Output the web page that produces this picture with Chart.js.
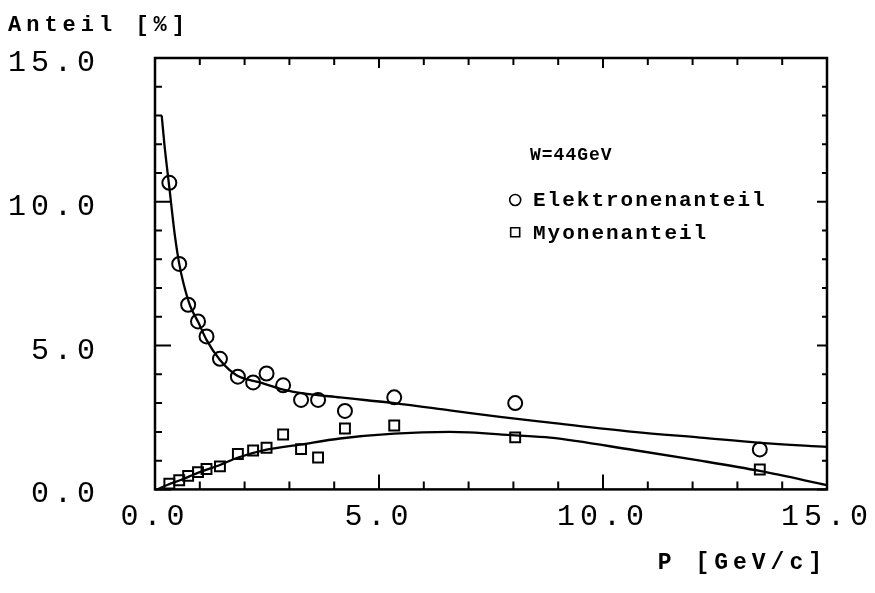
<!DOCTYPE html>
<html><head><meta charset="utf-8">
<script src="https://cdn.jsdelivr.net/npm/chart.js@4.4.1/dist/chart.umd.min.js"></script>
<style>html,body{margin:0;padding:0;background:#fff;}canvas{display:block;}</style>
</head><body>
<canvas id="c" width="875" height="593"></canvas>
<script>
// ---- data ----
const momentum  = [0.32, 0.54, 0.74, 0.96, 1.15, 1.45, 1.85, 2.19, 2.49, 2.86, 3.26, 3.64, 4.24, 5.34, 8.04, 13.5];
const electrons = [10.66, 7.84, 6.42, 5.84, 5.32, 4.54, 3.92, 3.72, 4.03, 3.62, 3.11, 3.11, 2.73, 3.20, 3.00, 1.39];
const muons     = [0.20, 0.32, 0.47, 0.60, 0.71, 0.80, 1.23, 1.35, 1.45, 1.91, 1.40, 1.11, 2.12, 2.22, 1.81, 0.69];

const eCurveP = [0.15, 0.21, 0.32, 0.45, 0.54, 0.63, 0.78, 0.97, 1.15, 1.45, 1.82, 2.34, 2.86, 3.39, 4.13, 4.73, 5.34, 6.58, 7.70, 8.82, 10.68, 12.17, 13.5, 15.0];
const eCurveV = [13.0, 12.0, 10.5, 8.75, 7.85, 7.2, 6.4, 5.8, 5.2, 4.5, 3.97, 3.72, 3.47, 3.32, 3.2, 3.1, 3.0, 2.75, 2.52, 2.32, 2.0, 1.8, 1.62, 1.48];
const mCurveP = [0.05, 0.3, 0.56, 1.0, 1.45, 1.84, 2.49, 3.24, 4.13, 5.34, 6.58, 8.04, 8.82, 10.68, 12.17, 13.5, 15.0];
const mCurveV = [0.0, 0.17, 0.32, 0.6, 0.85, 1.1, 1.38, 1.56, 1.77, 1.94, 2.0, 1.88, 1.80, 1.37, 1.0, 0.64, 0.15];

const seriesLabels = ['Elektronenanteil', 'Myonenanteil'];
const legendTitle = 'W=44GeV';
const yTitle = 'Anteil [%]';
const xTitle = 'P [GeV/c]';
const axisMin = 0, axisMax = 15, minorStep = 1, majorStep = 5;

const pts = (xs, ys) => xs.map((x, i) => ({x: x, y: ys[i]}));

// letter spacing for the plotter-like lettering
const spacingPlugin = {
  id: 'spacing',
  beforeUpdate(chart) { chart.ctx.letterSpacing = '5px'; },
  beforeLayout(chart) { chart.ctx.letterSpacing = '5px'; },
  beforeDraw(chart) { chart.ctx.letterSpacing = '5px'; }
};

// frame and inward tick marks on all four sides
const framePlugin = {
  id: 'frame',
  afterDraw(chart) {
    const {ctx, chartArea: a} = chart;
    const xs = chart.scales.x, ys = chart.scales.y;
    ctx.save();
    ctx.strokeStyle = '#000';
    ctx.lineWidth = 2.5;
    ctx.strokeRect(a.left, a.top, a.right - a.left, a.bottom - a.top);
    ctx.lineWidth = 2;
    ctx.beginPath();
    xs.ticks.forEach(t => {
      const p = xs.getPixelForValue(t.value);
      const major = t.value % majorStep === 0;
      const lb = major ? 15 : 8, lt = major ? 10 : 7;
      ctx.moveTo(p, a.bottom); ctx.lineTo(p, a.bottom - lb);
      ctx.moveTo(p, a.top); ctx.lineTo(p, a.top + lt);
    });
    ys.ticks.forEach(t => {
      const p = ys.getPixelForValue(t.value);
      const major = t.value % majorStep === 0;
      const ll = major ? 16 : 7, lr = major ? 10 : 5;
      ctx.moveTo(a.left, p); ctx.lineTo(a.left + ll, p);
      ctx.moveTo(a.right, p); ctx.lineTo(a.right - lr, p);
    });
    ctx.stroke();
    ctx.restore();
  }
};

// legend drawn inside the plotting area
const innerLegend = {
  id: 'innerLegend',
  afterDraw(chart) {
    const {ctx, chartArea: a} = chart;
    const w = a.right - a.left, h = a.bottom - a.top;
    ctx.save();
    ctx.fillStyle = '#000';
    ctx.strokeStyle = '#000';
    ctx.textBaseline = 'middle';
    ctx.textAlign = 'left';
    ctx.letterSpacing = '1px';
    ctx.font = 'bold 18px "Liberation Mono"';
    ctx.fillText(legendTitle, a.left + 0.558 * w, a.top + 0.225 * h);
    ctx.letterSpacing = '2px';
    ctx.font = 'bold 21px "Liberation Mono"';
    const rows = chart.data.datasets.filter(d => d.inLegend);
    rows.forEach((d, i) => {
      const y = a.top + (0.329 + i * 0.075) * h;
      const mx = a.left + 0.536 * w;
      ctx.lineWidth = 1.6;
      ctx.beginPath();
      if (d.pointStyle === 'circle') {
        ctx.arc(mx, y, 5.5, 0, Math.PI * 2);
      } else {
        ctx.rect(mx - 4.5, y - 4.5, 9, 9);
      }
      ctx.stroke();
      ctx.fillText(d.label, a.left + 0.5625 * w, y + 1);
    });
    ctx.restore();
  }
};

Chart.defaults.font.family = '"Liberation Mono", monospace';
Chart.defaults.color = '#000';

new Chart(document.getElementById('c'), {
  type: 'scatter',
  data: {
    datasets: [
      { label: 'e-fit', data: pts(eCurveP, eCurveV), showLine: true, borderColor: '#000', borderWidth: 2.3,
        pointRadius: 0, cubicInterpolationMode: 'monotone', fill: false },
      { label: 'mu-fit', data: pts(mCurveP, mCurveV), showLine: true, borderColor: '#000', borderWidth: 2.3,
        pointRadius: 0, cubicInterpolationMode: 'monotone', fill: false },
      { label: seriesLabels[0], inLegend: true, data: pts(momentum, electrons), pointStyle: 'circle',
        pointRadius: 7, borderColor: '#000', borderWidth: 2, backgroundColor: 'rgba(0,0,0,0)', showLine: false },
      { label: seriesLabels[1], inLegend: true, data: pts(momentum, muons), pointStyle: 'rect',
        pointRadius: 7, borderColor: '#000', borderWidth: 2, backgroundColor: 'rgba(0,0,0,0)', showLine: false }
    ]
  },
  options: {
    responsive: false,
    animation: false,
    devicePixelRatio: 1,
    layout: { padding: { left: 8, right: 0, top: 0, bottom: 16 } },
    plugins: {
      legend: { display: false },
      tooltip: { enabled: false },
      title: { display: true, text: yTitle, align: 'start', color: '#000',
               font: { size: 22, weight: 'bold' }, padding: { top: 12, bottom: 19.6 } }
    },
    scales: {
      x: {
        type: 'linear', min: axisMin, max: axisMax,
        grid: { display: false, drawTicks: false }, border: { display: false },
        ticks: { stepSize: minorStep, autoSkip: false, maxRotation: 0, padding: 10, color: '#000',
                 font: { size: 30 }, callback: v => (v % majorStep === 0 ? v.toFixed(1) : '') },
        title: { display: true, text: xTitle, align: 'end', color: '#000',
                 font: { size: 23, weight: 'bold' }, padding: { top: 4, bottom: 0 } },
        afterFit(s) { s.paddingRight = 48; }
      },
      y: {
        type: 'linear', min: axisMin, max: axisMax,
        grid: { display: false, drawTicks: false }, border: { display: false },
        ticks: { stepSize: minorStep, autoSkip: false, padding: 55, labelOffset: 5, color: '#000',
                 font: { size: 30 }, callback: v => (v % majorStep === 0 ? v.toFixed(1) : '') },
        afterFit(s) { s.width = 147; s.paddingTop = 0; }
      }
    }
  },
  plugins: [spacingPlugin, framePlugin, innerLegend]
});
</script>
</body></html>
